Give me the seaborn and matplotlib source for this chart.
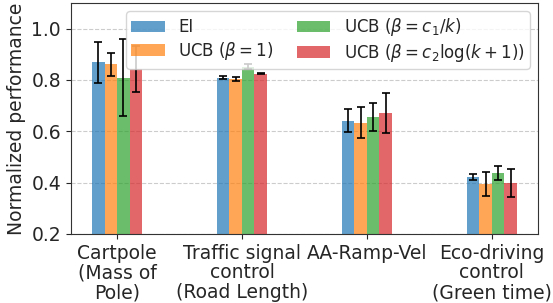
import matplotlib
matplotlib.use("Agg")
import matplotlib.pyplot as plt
import seaborn as sns
import pandas as pd
import numpy as np

categories = ["Cartpole\n(Mass of\nPole)", "Traffic signal\ncontrol\n(Road Length)",
              "AA-Ramp-Vel", "Eco-driving\ncontrol\n(Green time)"]
methods = ["EI", r"UCB ($\beta=1$)", r"UCB ($\beta=c_1/k$)", r"UCB ($\beta=c_2\log(k+1)$)"]
ei = [0.869, 0.809, 0.641, 0.422]
ucb1 = [0.862, 0.804, 0.633, 0.396]
ucb_k = [0.809, 0.852, 0.656, 0.438]
ucb_log = [0.842, 0.825, 0.672, 0.399]
ei_err = [0.080, 0.005, 0.045, 0.013]
ucb1_err = [0.045, 0.007, 0.060, 0.047]
ucb_k_err = [0.150, 0.010, 0.055, 0.028]
ucb_log_err = [0.090, 0.003, 0.077, 0.055]

values = [ei, ucb1, ucb_k, ucb_log]
errors = [ei_err, ucb1_err, ucb_k_err, ucb_log_err]

rows = []
for m, vals, errs in zip(methods, values, errors):
    for c, v, e in zip(categories, vals, errs):
        rows.append({"task": c, "method": m, "value": v, "err": e})
df = pd.DataFrame(rows)

sns.set_style("ticks")
plt.rcParams['font.family'] = ['DejaVu Sans']

fig, ax = plt.subplots(figsize=(5.53, 3.03), dpi=100)
palette = ["tab:blue", "tab:orange", "tab:green", "tab:red"]
sns.barplot(data=df, x="task", y="value", hue="method", hue_order=methods,
            order=categories, palette=palette, alpha=0.7, width=0.4, gap=0,
            errorbar=None, ax=ax, linewidth=0, saturation=1)

bar_containers = list(ax.containers)
for container, m in zip(bar_containers, methods):
    sub = df[df.method == m].set_index("task").loc[categories]
    xs = [b.get_x() + b.get_width() / 2 for b in container]
    ax.errorbar(xs, sub["value"].values, yerr=sub["err"].values, fmt="none",
                ecolor="black", elinewidth=1.2, capsize=3, capthick=1.2, zorder=4)

ax.set_ylim(0.2, 1.1)
ax.set_xlim(-0.37, 3.37)
ax.set_yticks([0.2, 0.4, 0.6, 0.8, 1.0])
ax.yaxis.grid(True, linestyle="--", color="#cccccc", linewidth=0.8)
ax.set_axisbelow(True)
ax.set_xlabel("")
ax.set_ylabel("Normalized performance", fontsize=13.5)
ax.tick_params(axis="both", labelsize=13.5)
for lab in ax.get_xticklabels():
    lab.set_linespacing(1.05)
for s in ax.spines.values():
    s.set_visible(True)
    s.set_color("#333333")

ax.legend(ncol=2, loc="upper right", fontsize=12, frameon=True,
          handlelength=2.0, columnspacing=1.4, labelspacing=0.2,
          borderpad=0.3)

fig.subplots_adjust(left=0.128, right=0.973, top=0.99, bottom=0.228)
fig.savefig("out.png", dpi=100)
